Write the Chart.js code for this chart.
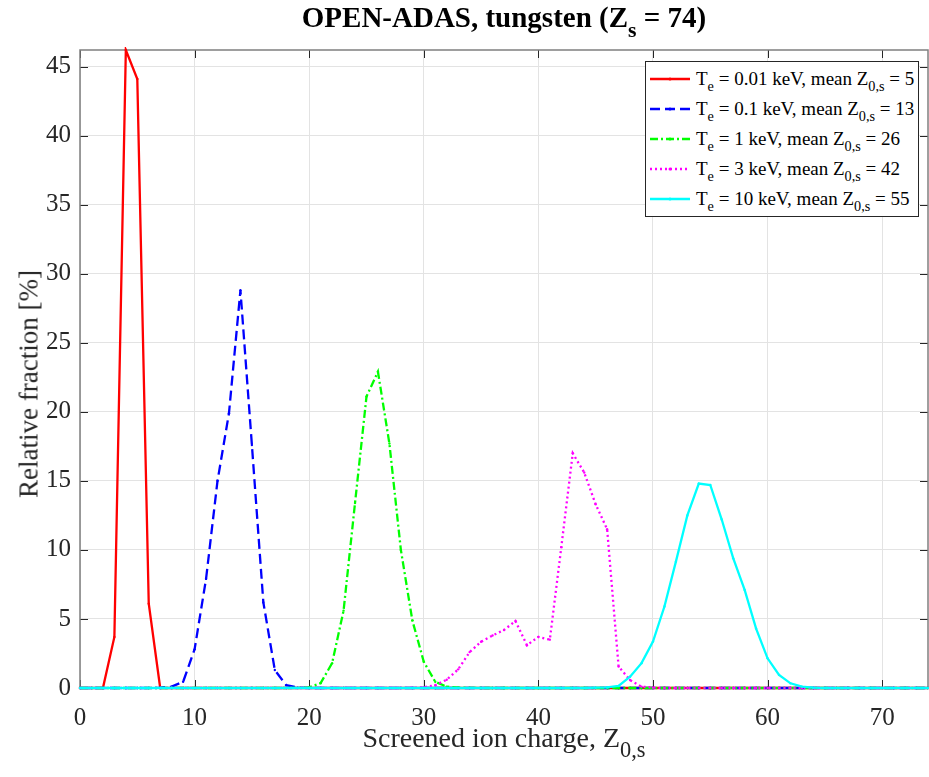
<!DOCTYPE html>
<html>
<head>
<meta charset="utf-8">
<script src="https://cdn.jsdelivr.net/npm/chart.js@4.4.0/dist/chart.umd.min.js"></script>
<style>
    html, body { margin: 0; padding: 0; background: #fff; overflow: hidden; }
    #wrap { position: relative; width: 929px; height: 777px; font-family: "Liberation Serif", "Times New Roman", serif; color: #262626; }
    #chart { position: absolute; left: 0; top: 0; }
    sub { font-size: 0.75em; vertical-align: -0.45em; line-height: 0; }
    #title { position: absolute; left: 80px; width: 848px; top: 1px; text-align: center; font-weight: bold; font-size: 29px; color: #000; }
    #xlabel { position: absolute; left: 80px; width: 848px; top: 722px; text-align: center; font-size: 28px; }
    #xlabel sub { font-size: 0.8em; }
    #ylabel { position: absolute; left: 29px; top: 384px; transform: translate(-50%, -50%) rotate(-90deg); white-space: nowrap; font-size: 27px; }
    #legend { position: absolute; left: 645px; top: 61px; width: 272px; height: 154px; border: 1px solid #262626; background: #fff; }
    .row { position: absolute; left: 4px; height: 30px; display: flex; align-items: center; font-size: 19px; color: #000; white-space: nowrap; }
    .row svg { margin-right: 6px; }
</style>
</head>
<body>
<div id="wrap">
    <canvas id="chart" width="929" height="777"></canvas>
    <div id="title">OPEN-ADAS, tungsten (Z<sub>s</sub> = 74)</div>
    <div id="xlabel">Screened ion charge, Z<sub>0,s</sub></div>
    <div id="ylabel">Relative fraction [%]</div>
    <div id="legend"></div>
</div>
<script>
// Screened ion charge Z_0,s (x categories)
const chargeStates = [
    0, 1, 2, 3, 4, 5, 6, 7, 8, 9,
    10, 11, 12, 13, 14, 15, 16, 17, 18, 19,
    20, 21, 22, 23, 24, 25, 26, 27, 28, 29,
    30, 31, 32, 33, 34, 35, 36, 37, 38, 39,
    40, 41, 42, 43, 44, 45, 46, 47, 48, 49,
    50, 51, 52, 53, 54, 55, 56, 57, 58, 59,
    60, 61, 62, 63, 64, 65, 66, 67, 68, 69,
    70, 71, 72, 73, 74
];

// Relative fraction [%] per charge state
const frac001keV = [
    0, 0, 0, 3.7, 46.2, 44.1, 6.1, 0, 0, 0,
    0, 0, 0, 0, 0, 0, 0, 0, 0, 0,
    0, 0, 0, 0, 0, 0, 0, 0, 0, 0,
    0, 0, 0, 0, 0, 0, 0, 0, 0, 0,
    0, 0, 0, 0, 0, 0, 0, 0, 0, 0,
    0, 0, 0, 0, 0, 0, 0, 0, 0, 0,
    0, 0, 0, 0, 0, 0, 0, 0, 0, 0,
    0, 0, 0, 0, 0
];
const frac01keV = [
    0, 0, 0, 0, 0, 0, 0, 0.02, 0.1, 0.45,
    2.8, 7.9, 15.0, 19.9, 28.8, 17.6, 6.2, 1.3, 0.2, 0.03,
    0, 0, 0, 0, 0, 0, 0, 0, 0, 0,
    0, 0, 0, 0, 0, 0, 0, 0, 0, 0,
    0, 0, 0, 0, 0, 0, 0, 0, 0, 0,
    0, 0, 0, 0, 0, 0, 0, 0, 0, 0,
    0, 0, 0, 0, 0, 0, 0, 0, 0, 0,
    0, 0, 0, 0, 0
];
const frac1keV = [
    0, 0, 0, 0, 0, 0, 0, 0, 0, 0,
    0, 0, 0, 0, 0, 0, 0, 0, 0, 0.01,
    0.05, 0.35, 1.8, 5.6, 13.4, 21.1, 22.9, 17.7, 10.0, 4.9,
    1.9, 0.45, 0.1, 0.03, 0.01, 0, 0, 0, 0, 0,
    0, 0, 0, 0, 0, 0, 0, 0, 0, 0,
    0, 0, 0, 0, 0, 0, 0, 0, 0, 0,
    0, 0, 0, 0, 0, 0, 0, 0, 0, 0,
    0, 0, 0, 0, 0
];
const frac3keV = [
    0, 0, 0, 0, 0, 0, 0, 0, 0, 0,
    0, 0, 0, 0, 0, 0, 0, 0, 0, 0,
    0, 0, 0, 0, 0, 0, 0, 0, 0, 0.02,
    0.05, 0.2, 0.6, 1.35, 2.6, 3.35, 3.8, 4.2, 4.85, 3.1,
    3.7, 3.5, 10.2, 17.0, 15.6, 13.3, 11.5, 1.55, 0.58, 0.1,
    0.03, 0, 0, 0, 0, 0, 0, 0, 0, 0,
    0, 0, 0, 0, 0, 0, 0, 0, 0, 0,
    0, 0, 0, 0, 0
];
const frac10keV = [
    0, 0, 0, 0, 0, 0, 0, 0, 0, 0,
    0, 0, 0, 0, 0, 0, 0, 0, 0, 0,
    0, 0, 0, 0, 0, 0, 0, 0, 0, 0,
    0, 0, 0, 0, 0, 0, 0, 0, 0, 0,
    0, 0, 0, 0, 0, 0.02, 0.05, 0.15, 0.82, 1.8,
    3.36, 5.9, 9.15, 12.5, 14.8, 14.7, 12.2, 9.4, 7.1, 4.3,
    2.15, 0.95, 0.34, 0.1, 0.02, 0, 0, 0, 0, 0,
    0, 0, 0, 0, 0
];

// Legend labels
const temperatures = ['0.01', '0.1', '1', '3', '10'];
const meanCharges = [5, 13, 26, 42, 55];

// Tick labels
const xTicks = [0, 10, 20, 30, 40, 50, 60, 70];
const yTicks = [0, 5, 10, 15, 20, 25, 30, 35, 40, 45];

const seriesValues = [frac001keV, frac01keV, frac1keV, frac3keV, frac10keV];
const seriesColors = ['#ff0000', '#0000ff', '#00ff00', '#ff00ff', '#00ffff'];
const seriesDashes = [[], [10, 5], [8, 3, 2, 3], [2, 3], []];

const datasets = seriesValues.map((vals, i) => ({
    label: `Te = ${temperatures[i]} keV, mean Z0,s = ${meanCharges[i]}`,
    data: chargeStates.map((z, k) => ({ x: z, y: vals[k] })),
    borderColor: seriesColors[i],
    backgroundColor: seriesColors[i],
    borderWidth: 2.3,
    borderDash: seriesDashes[i],
    pointRadius: 1.2,
    pointBorderWidth: 0,
    pointBackgroundColor: seriesColors[i],
    tension: 0,
    clip: 3,
    order: seriesValues.length - i   // last series drawn on top
}));

// Box and inward tick marks, MATLAB style
const axesBox = {
    id: 'axesBox',
    beforeDatasetsDraw(chart) {
        const { ctx, chartArea: a, scales: { x, y } } = chart;
        ctx.save();
        ctx.strokeStyle = '#262626';
        ctx.lineWidth = 1;
        ctx.beginPath();
        xTicks.forEach(v => {
            const px = Math.round(x.getPixelForValue(v)) + 0.5;
            ctx.moveTo(px, a.bottom); ctx.lineTo(px, a.bottom - 8);
            ctx.moveTo(px, a.top); ctx.lineTo(px, a.top + 8);
        });
        yTicks.forEach(v => {
            const py = Math.round(y.getPixelForValue(v)) + 0.5;
            ctx.moveTo(a.left, py); ctx.lineTo(a.left + 8, py);
            ctx.moveTo(a.right, py); ctx.lineTo(a.right - 8, py);
        });
        ctx.stroke();
        ctx.strokeStyle = '#7f7f7f';
        ctx.lineWidth = 1.5;
        ctx.strokeRect(a.left, a.top, a.right - a.left, a.bottom - a.top);
        ctx.restore();
    }
};

const tickFont = { family: 'Liberation Serif', size: 25 };

new Chart(document.getElementById('chart'), {
    type: 'line',
    data: { datasets: datasets },
    options: {
        responsive: false,
        animation: false,
        devicePixelRatio: 1,
        // no auto padding, so the plot box runs to the right edge like the original
        layout: { autoPadding: false, padding: { top: 50, right: 1, left: 0, bottom: 0 } },
        plugins: { legend: { display: false }, title: { display: false }, tooltip: { enabled: false } },
        scales: {
            x: {
                type: 'linear',
                min: 0,
                max: 74,
                afterBuildTicks: s => { s.ticks = xTicks.map(v => ({ value: v })); },
                afterFit: s => { s.height = 89; s.paddingLeft = 0; s.paddingRight = 0; },
                ticks: { font: tickFont, color: '#262626', padding: 15 },
                grid: { color: '#e3e3e3', lineWidth: 1, drawTicks: false },
                border: { display: false }
            },
            y: {
                type: 'linear',
                min: 0,
                max: 46.2,
                afterBuildTicks: s => { s.ticks = yTicks.map(v => ({ value: v })); },
                afterFit: s => { s.width = 80; s.paddingTop = 0; s.paddingBottom = 0; },
                ticks: { font: tickFont, color: '#262626', padding: 9 },
                grid: { color: '#e3e3e3', lineWidth: 1, drawTicks: false },
                border: { display: false }
            }
        }
    },
    plugins: [axesBox]
});

// HTML legend with subscripts
const legend = document.getElementById('legend');
temperatures.forEach((t, i) => {
    const row = document.createElement('div');
    row.className = 'row';
    row.style.top = (2 + i * 30) + 'px';
    const dash = seriesDashes[i].length ? seriesDashes[i].join(',') : 'none';
    row.innerHTML =
        `<svg width="40" height="10"><line x1="0" y1="5" x2="40" y2="5" stroke="${seriesColors[i]}" stroke-width="2.3" stroke-dasharray="${dash}"/>` +
        `<circle cx="20" cy="5" r="1.5" fill="${seriesColors[i]}"/></svg>` +
        `<span>T<sub>e</sub> = ${t} keV, mean Z<sub>0,s</sub> = ${meanCharges[i]}</span>`;
    legend.appendChild(row);
});
</script>
</body>
</html>
